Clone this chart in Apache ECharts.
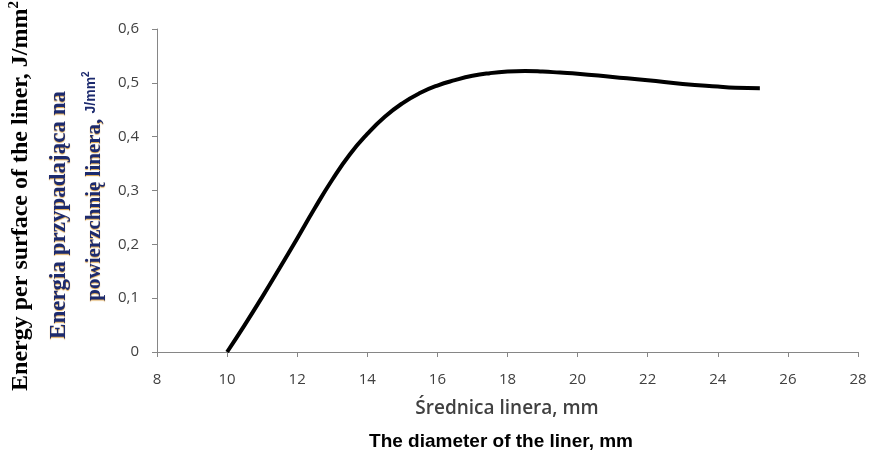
<!DOCTYPE html>
<html><head><meta charset="utf-8">
<script src="https://cdn.jsdelivr.net/npm/echarts@6/dist/echarts.min.js"></script>
<style>html,body{margin:0;padding:0;background:#fff}#c{width:871px;height:454px}</style>
</head><body><div id="c"></div>
<script>
var diameter = [10, 10.5, 11, 11.5, 12, 12.5, 13, 13.5, 14, 14.5, 15, 15.5, 16, 16.5, 17, 17.5, 18, 18.5, 19, 19.5, 20, 21, 22, 23, 24, 24.5, 25.2];
var energy   = [0, 0.05, 0.102, 0.156, 0.211, 0.267, 0.320, 0.367, 0.405, 0.437, 0.462, 0.481, 0.495, 0.505, 0.513, 0.518, 0.521, 0.522, 0.521, 0.519, 0.517, 0.511, 0.505, 0.498, 0.493, 0.491, 0.490];
var xTitlePl = 'Średnica linera, mm';
var xTitleEn = 'The diameter of the liner, mm';
var yTitleEn = 'Energy per surface of the liner, J/mm';
var yTitlePl1 = 'Energia przypadająca na';
var yTitlePl2 = 'powierzchnię linera, ';

var chart = echarts.init(document.getElementById('c'));
var pts = diameter.map(function(d, i){ return [d, energy[i]]; });
chart.setOption({
  animation: false,
  grid: {left: 157, right: 13, top: 29, bottom: 102},
  xAxis: {
    type: 'value', min: 8, max: 28, interval: 2,
    axisLine: {lineStyle: {color: '#868686', width: 1}},
    axisTick: {show: true, length: 5, lineStyle: {color: '#868686'}},
    splitLine: {show: false},
    axisLabel: {color: '#404040', fontFamily: 'Open Sans', fontSize: 15, margin: 20}
  },
  yAxis: {
    type: 'value', min: 0, max: 0.6, interval: 0.1,
    axisLine: {show: true, lineStyle: {color: '#868686', width: 1}},
    axisTick: {show: true, length: 5, lineStyle: {color: '#868686'}},
    splitLine: {show: false},
    axisLabel: {color: '#404040', fontFamily: 'Open Sans', fontSize: 15, margin: 18,
      formatter: function(v){ return (Math.round(v*10)/10).toString().replace('.', ','); }}
  },
  series: [{
    type: 'line', data: pts, smooth: 0.5, showSymbol: false,
    lineStyle: {color: '#000', width: 4}
  }],
  graphic: [
    {type: 'text', x: 507, y: 409, style: {text: xTitlePl, fill: '#404040', font: '600 19px "Open Sans"', textAlign: 'center', textVerticalAlign: 'middle'}},
    {type: 'text', x: 501, y: 442, style: {text: xTitleEn, fill: '#000', font: 'bold 19px "Liberation Sans"', textAlign: 'center', textVerticalAlign: 'middle'}},
    {type: 'text', x: 21, y: 196, rotation: Math.PI/2, style: {
      text: '{a|' + yTitleEn + '}{s|2}', textAlign: 'center', textVerticalAlign: 'middle',
      rich: {a: {font: 'bold 24px "Liberation Serif"', fill: '#000'}, s: {font: 'bold 15px "Liberation Serif"', fill: '#000', padding: [0,0,13,0]}}
    }},
    {type: 'text', x: 59, y: 215, rotation: Math.PI/2, style: {
      text: yTitlePl1, fill: '#1c2a6e', font: 'bold 23px "Liberation Serif"', textAlign: 'center', textVerticalAlign: 'middle',
      textShadowColor: 'rgba(210,140,30,0.8)', textShadowBlur: 1, textShadowOffsetX: 0, textShadowOffsetY: 1
    }},
    {type: 'text', x: 95, y: 186, rotation: Math.PI/2, style: {
      text: '{a|' + yTitlePl2 + '}{b|J/mm}{s|2}', textAlign: 'center', textVerticalAlign: 'middle',
      rich: {
        a: {font: 'bold 21px "Liberation Serif"', fill: '#1c2a6e', textShadowColor: 'rgba(210,140,30,0.8)', textShadowBlur: 1, textShadowOffsetY: 1},
        b: {font: 'bold 14px "Liberation Sans"', fill: '#1c2a6e', padding: [0,0,8,0]},
        s: {font: 'bold 10px "Liberation Sans"', fill: '#1c2a6e', padding: [0,0,18,0]}
      }
    }}
  ]
});
</script>
</body></html>
